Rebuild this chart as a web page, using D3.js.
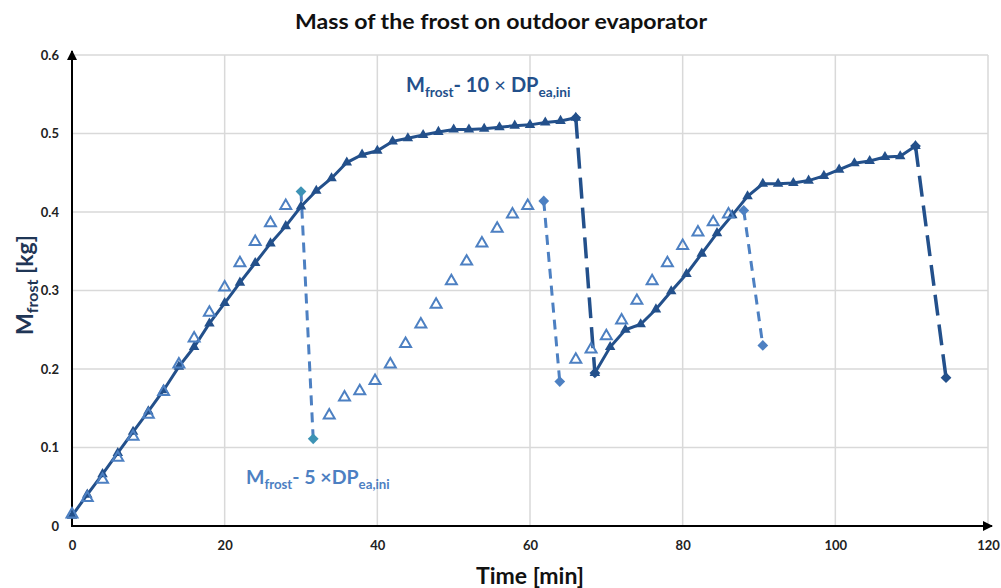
<!DOCTYPE html>
<html>
<head>
<meta charset="utf-8">
<script src="https://cdn.jsdelivr.net/npm/d3@7"></script>
<style>
  body { margin: 0; background: #fff; }
  svg { display: block; font-family: Lato, "Open Sans", sans-serif; }
</style>
</head>
<body>
<script>
// tick labels
var xTicks = [0, 20, 40, 60, 80, 100, 120];
var yTicks = [0, 0.1, 0.2, 0.3, 0.4, 0.5, 0.6];

// M_frost - 10x DP series (solid line, filled triangles)
var darkTimeA = [0, 2, 4, 6, 8, 10, 12, 14, 16, 18, 20, 22, 24, 26, 28, 30, 32, 34,
                 36, 38, 40, 42, 44, 46, 48, 50, 52, 54, 56, 58, 60, 62, 64, 66];
var darkMassA = [0.013, 0.040, 0.066, 0.093, 0.120, 0.146, 0.173, 0.203, 0.228, 0.258,
                 0.284, 0.310, 0.335, 0.360, 0.382, 0.407, 0.427, 0.443, 0.463, 0.473,
                 0.478, 0.490, 0.494, 0.498, 0.502, 0.505, 0.505, 0.506, 0.508, 0.510,
                 0.511, 0.514, 0.516, 0.520];
var darkTimeB = [68.5, 70.5, 72.5, 74.5, 76.5, 78.5, 80.5, 82.5, 84.5, 86.5, 88.5,
                 90.5, 92.5, 94.5, 96.5, 98.5, 100.5, 102.5, 104.5, 106.5, 108.5, 110.5];
var darkMassB = [0.195, 0.228, 0.250, 0.257, 0.276, 0.299, 0.321, 0.347, 0.373, 0.396, 0.420,
                 0.436, 0.436, 0.437, 0.440, 0.446, 0.454, 0.462, 0.465, 0.470, 0.471, 0.484];
// defrost drops (dashed, diamonds at both ends)
var darkDropTime = [[66, 68.5], [110.5, 114.5]];
var darkDropMass = [[0.520, 0.195], [0.484, 0.189]];

// M_frost - 5x DP series (open triangles only)
var lightTimeA = [0, 2, 4, 6, 8, 10, 12, 14, 16, 18, 20, 22, 24, 26, 28];
var lightMassA = [0.015, 0.036, 0.059, 0.087, 0.114, 0.142, 0.171, 0.206, 0.239, 0.272,
                  0.304, 0.335, 0.362, 0.386, 0.408];
var lightTimeB = [33.7, 35.7, 37.7, 39.7, 41.7, 43.7, 45.7, 47.7, 49.7, 51.7, 53.7, 55.7, 57.7, 59.7];
var lightMassB = [0.141, 0.164, 0.172, 0.185, 0.206, 0.232, 0.257, 0.282, 0.312, 0.337,
                  0.360, 0.379, 0.397, 0.408];
var lightTimeC = [66, 68, 70, 72, 74, 76, 78, 80, 82, 84, 86];
var lightMassC = [0.212, 0.225, 0.242, 0.262, 0.287, 0.312, 0.335, 0.357, 0.374, 0.387, 0.397];
var lightDropTime = [[30, 31.6], [61.8, 63.9], [88, 90.5]];
var lightDropMass = [[0.426, 0.111], [0.414, 0.184], [0.402, 0.230]];

var darkColor = "#23508b";
var lightColor = "#4d80c2";
var tealColor = "#3d93b5";

var W = 1001, H = 588;
var x = d3.scaleLinear().domain([0, 120]).range([72, 988]);
var y = d3.scaleLinear().domain([0, 0.6]).range([526, 55]);

var svg = d3.select("body").append("svg")
    .attr("width", W)
    .attr("height", H);

// arrowhead
svg.append("defs").append("marker")
    .attr("id", "arrow")
    .attr("viewBox", "0 0 10 10")
    .attr("refX", 9).attr("refY", 5)
    .attr("markerWidth", 5).attr("markerHeight", 5)
    .attr("markerUnits", "strokeWidth")
    .attr("orient", "auto")
  .append("path")
    .attr("d", "M0,0 L10,5 L0,10 z")
    .attr("fill", "#000");

// gridlines
svg.append("g").selectAll("line")
    .data(yTicks.slice(1))
    .join("line")
    .attr("x1", x(0)).attr("x2", x(120))
    .attr("y1", d => y(d)).attr("y2", d => y(d))
    .attr("stroke", "#d9d9d9").attr("stroke-width", 1.5);
svg.append("g").selectAll("line")
    .data(xTicks.slice(1))
    .join("line")
    .attr("x1", d => x(d)).attr("x2", d => x(d))
    .attr("y1", y(0)).attr("y2", y(0.6))
    .attr("stroke", "#d9d9d9").attr("stroke-width", 1.5);

// axes
var xAxis = svg.append("g")
    .attr("transform", "translate(0," + y(0) + ")")
    .call(d3.axisBottom(x).tickValues(xTicks).tickSize(0).tickPadding(15).tickFormat(d3.format("d")));
var yAxis = svg.append("g")
    .attr("transform", "translate(" + x(0) + ",0)")
    .call(d3.axisLeft(y).tickValues(yTicks).tickSize(0).tickPadding(13).tickFormat(d => d === 0 ? "0" : d3.format(".1f")(d)));
[xAxis, yAxis].forEach(function(a) {
  a.select(".domain").remove();
  a.selectAll("text")
    .attr("font-family", "Lato, sans-serif")
    .attr("font-size", 13)
    .attr("font-weight", "bold")
    .attr("fill", "#222");
});

svg.append("line")
    .attr("x1", x(0)).attr("x2", x(0) + 0.0001)
    .attr("y1", y(0) + 1).attr("y2", y(0.6) - 4)
    .attr("stroke", "#000").attr("stroke-width", 2)
    .attr("marker-end", "url(#arrow)");
svg.append("line")
    .attr("x1", x(0) - 1).attr("x2", x(120) + 4)
    .attr("y1", y(0)).attr("y2", y(0) + 0.0001)
    .attr("stroke", "#000").attr("stroke-width", 2)
    .attr("marker-end", "url(#arrow)");

var line = d3.line().x(d => x(d[0])).y(d => y(d[1]));
function pairs(ts, ms) { return ts.map((t, i) => [t, ms[i]]); }

var tri = d3.symbol().type(d3.symbolTriangle);
var dia = d3.symbol().type(d3.symbolSquare).size(58);

// dark dashed drops
darkDropTime.forEach(function(ts, i) {
  svg.append("path")
      .attr("d", line(pairs(ts, darkDropMass[i])))
      .attr("fill", "none")
      .attr("stroke", darkColor)
      .attr("stroke-width", 3.5)
      .attr("stroke-dasharray", "21,9");
});

// light dashed drops
lightDropTime.forEach(function(ts, i) {
  svg.append("path")
      .attr("d", line(pairs(ts, lightDropMass[i])))
      .attr("fill", "none")
      .attr("stroke", lightColor)
      .attr("stroke-width", 3)
      .attr("stroke-dasharray", "10,7");
});

// dark solid series
[[darkTimeA, darkMassA], [darkTimeB, darkMassB]].forEach(function(s) {
  var pts = pairs(s[0], s[1]);
  svg.append("path")
      .attr("d", line(pts))
      .attr("fill", "none")
      .attr("stroke", darkColor)
      .attr("stroke-width", 3);
  svg.append("g").selectAll("path")
      .data(pts)
      .join("path")
      .attr("d", tri.size(48))
      .attr("transform", d => "translate(" + x(d[0]) + "," + y(d[1]) + ")")
      .attr("fill", darkColor);
});

// light open triangles
[[lightTimeA, lightMassA], [lightTimeB, lightMassB], [lightTimeC, lightMassC]].forEach(function(s) {
  svg.append("g").selectAll("path")
      .data(pairs(s[0], s[1]))
      .join("path")
      .attr("d", tri.size(52))
      .attr("transform", d => "translate(" + x(d[0]) + "," + y(d[1]) + ")")
      .attr("fill", "#fff")
      .attr("fill-opacity", 0)
      .attr("stroke", lightColor)
      .attr("stroke-width", 2);
});

// diamonds at drop ends
darkDropTime.forEach(function(ts, i) {
  svg.append("g").selectAll("path")
      .data(pairs(ts, darkDropMass[i]))
      .join("path")
      .attr("d", dia)
      .attr("transform", d => "translate(" + x(d[0]) + "," + y(d[1]) + ") rotate(45)")
      .attr("fill", darkColor);
});
lightDropTime.forEach(function(ts, i) {
  svg.append("g").selectAll("path")
      .data(pairs(ts, lightDropMass[i]))
      .join("path")
      .attr("d", dia)
      .attr("transform", d => "translate(" + x(d[0]) + "," + y(d[1]) + ") rotate(45)")
      .attr("fill", i === 0 ? tealColor : lightColor);
});

// title
svg.append("text")
    .attr("x", 501).attr("y", 29)
    .attr("text-anchor", "middle")
    .attr("font-size", 21)
    .attr("font-weight", "bold")
    .attr("fill", "#111")
    .attr("textLength", 412)
    .attr("lengthAdjust", "spacingAndGlyphs")
    .text("Mass of the frost on outdoor evaporator");

// series labels
function seriesLabel(px, py, color, size, parts) {
  var t = svg.append("text")
      .attr("x", px).attr("y", py)
      .attr("font-weight", "bold")
      .attr("fill", color);
  parts.forEach(function(p) {
    t.append("tspan")
        .attr("font-size", p.sub ? size * 0.68 : size)
        .attr("dy", p.dy || 0)
        .attr("font-weight", p.thin ? "normal" : "bold")
        .text(p.s);
  });
}
seriesLabel(406, 92, darkColor, 20, [
  {s: "M"}, {s: "frost", sub: true, dy: 5}, {s: "- 10", dy: -5},
  {s: " \u00d7  ", thin: true}, {s: "DP"}, {s: "ea,ini", sub: true, dy: 5}
]);
seriesLabel(246, 484, lightColor, 19.5, [
  {s: "M"}, {s: "frost", sub: true, dy: 5}, {s: "- 5 \u00d7DP", dy: -5},
  {s: "ea,ini", sub: true, dy: 5}
]);

// axis titles
svg.append("text")
    .attr("x", 530).attr("y", 584)
    .attr("text-anchor", "middle")
    .attr("font-size", 23)
    .attr("font-weight", "bold")
    .attr("fill", "#111")
    .text("Time [min]");

var yl = svg.append("text")
    .attr("transform", "translate(33,285) rotate(-90)")
    .attr("text-anchor", "middle")
    .attr("font-weight", "bold")
    .attr("fill", "#1f3656");
yl.append("tspan").attr("font-size", 23).text("M");
yl.append("tspan").attr("font-size", 16).attr("dy", 5).text("frost");
yl.append("tspan").attr("font-size", 23).attr("dy", -5).text(" [kg]");
</script>
</body>
</html>
